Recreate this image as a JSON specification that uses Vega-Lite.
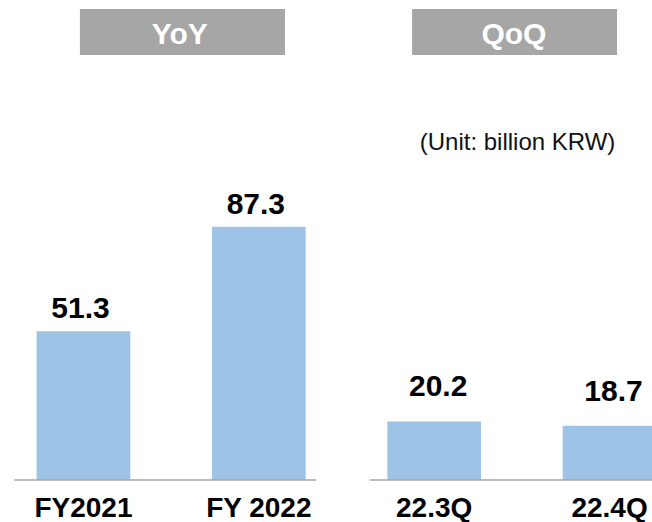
{
  "$schema": "https://vega.github.io/schema/vega-lite/v6.json",
  "width": 652,
  "height": 480,
  "autosize": {"type": "none"},
  "padding": {"left": 0, "top": 0, "right": 0, "bottom": 42},
  "background": "white",
  "config": {"view": {"stroke": null}, "font": "Liberation Sans"},
  "datasets": {
    "bars": [
      {"period": "FY2021", "group": "YoY", "value": 51.3},
      {"period": "FY 2022", "group": "YoY", "value": 87.3},
      {"period": "22.3Q", "group": "QoQ", "value": 20.2},
      {"period": "22.4Q", "group": "QoQ", "value": 18.7}
    ],
    "groups": [
      {"group": "YoY", "first": "FY2021", "last": "FY 2022"},
      {"group": "QoQ", "first": "22.3Q", "last": "22.4Q"}
    ]
  },
  "layer": [
    {
      "data": {"name": "bars"},
      "mark": {"type": "bar", "color": "#9DC3E6"},
      "encoding": {
        "x": {
          "field": "period", "type": "nominal",
          "scale": {"domain": ["FY2021", "FY 2022", "22.3Q", "22.4Q"], "range": [0, 693], "paddingInner": 0.466, "paddingOuter": 0.209},
          "axis": {"title": null, "domain": false, "ticks": false, "tickSize": 0, "labelPadding": 14, "labelFontSize": 28, "labelFontWeight": "bold", "labelColor": "black", "labelAngle": 0, "labelFont": "Liberation Sans", "grid": false}
        },
        "y": {"field": "value", "type": "quantitative", "scale": {"domain": [0, 165.5], "nice": false}, "axis": null}
      }
    },
    {
      "data": {"name": "groups"},
      "transform": [{"filter": "datum.group === 'YoY'"}],
      "mark": {"type": "rect", "color": "#A6A6A6"},
      "encoding": {
        "x": {"field": "first", "type": "nominal", "bandPosition": 0.462},
        "x2": {"field": "last", "bandPosition": 0.779},
        "y": {"datum": 162.4, "type": "quantitative"},
        "y2": {"datum": 146.55}
      }
    },
    {
      "data": {"name": "groups"},
      "transform": [{"filter": "datum.group === 'QoQ'"}],
      "mark": {"type": "rect", "color": "#A6A6A6"},
      "encoding": {
        "x": {"field": "first", "type": "nominal", "bandPosition": 0.264},
        "x2": {"field": "last", "bandPosition": 0.58},
        "y": {"datum": 162.4, "type": "quantitative"},
        "y2": {"datum": 146.55}
      }
    },
    {
      "data": {"name": "groups"},
      "transform": [{"filter": "datum.group === 'YoY'"}],
      "mark": {"type": "text", "color": "white", "fontSize": 30, "fontWeight": "bold", "baseline": "alphabetic", "align": "center"},
      "encoding": {
        "x": {"field": "first", "type": "nominal", "bandPosition": 1.529},
        "y": {"datum": 150.2, "type": "quantitative"},
        "text": {"field": "group", "type": "nominal"}
      }
    },
    {
      "data": {"name": "groups"},
      "transform": [{"filter": "datum.group === 'QoQ'"}],
      "mark": {"type": "text", "color": "white", "fontSize": 30, "fontWeight": "bold", "baseline": "alphabetic", "align": "center"},
      "encoding": {
        "x": {"field": "first", "type": "nominal", "bandPosition": 1.352},
        "y": {"datum": 150.2, "type": "quantitative"},
        "text": {"field": "group", "type": "nominal"}
      }
    },
    {
      "data": {"name": "groups"},
      "transform": [{"filter": "datum.group === 'QoQ'"}],
      "mark": {"type": "text", "color": "#111111", "fontSize": 24, "baseline": "alphabetic", "align": "center"},
      "encoding": {
        "x": {"field": "first", "type": "nominal", "bandPosition": 1.39},
        "y": {"datum": 113.8, "type": "quantitative"},
        "text": {"value": "(Unit: billion KRW)"}
      }
    },
    {
      "data": {"name": "groups"},
      "transform": [{"filter": "datum.group === 'YoY'"}],
      "mark": {"type": "rule", "color": "#A6A6A6", "strokeWidth": 1.5},
      "encoding": {
        "x": {"field": "first", "type": "nominal", "bandPosition": -0.242},
        "x2": {"field": "last", "bandPosition": 1.11},
        "y": {"datum": 0, "type": "quantitative"}
      }
    },
    {
      "data": {"name": "groups"},
      "transform": [{"filter": "datum.group === 'QoQ'"}],
      "mark": {"type": "rule", "color": "#A6A6A6", "strokeWidth": 1.5},
      "encoding": {
        "x": {"field": "first", "type": "nominal", "bandPosition": -0.185},
        "x2": {"field": "last", "bandPosition": 1.3},
        "y": {"datum": 0, "type": "quantitative"}
      }
    },
    {
      "data": {"name": "bars"},
      "transform": [{"filter": "datum.group === 'YoY'"}],
      "mark": {"type": "text", "color": "black", "fontSize": 30, "fontWeight": "bold", "baseline": "alphabetic", "align": "center", "dy": -13, "dx": -3},
      "encoding": {
        "x": {"field": "period", "type": "nominal"},
        "y": {"field": "value", "type": "quantitative"},
        "text": {"field": "value", "type": "quantitative", "format": ".1f"}
      }
    },
    {
      "data": {"name": "bars"},
      "transform": [{"filter": "datum.group === 'QoQ'"}],
      "mark": {"type": "text", "color": "black", "fontSize": 30, "fontWeight": "bold", "baseline": "alphabetic", "align": "center", "dy": -25, "dx": 4},
      "encoding": {
        "x": {"field": "period", "type": "nominal"},
        "y": {"field": "value", "type": "quantitative"},
        "text": {"field": "value", "type": "quantitative", "format": ".1f"}
      }
    }
  ]
}
